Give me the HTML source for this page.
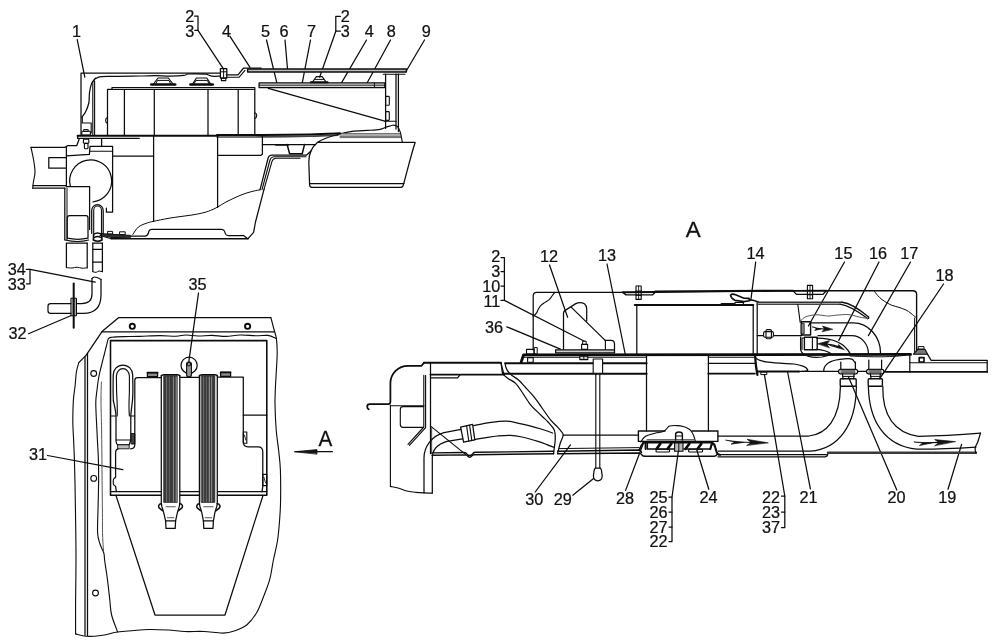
<!DOCTYPE html>
<html lang="en">
<head>
<meta charset="utf-8">
<title>Air conditioner installation diagram</title>
<style>
html,body{margin:0;padding:0;background:#fff;}
body{width:1000px;height:644px;overflow:hidden;}
svg{display:block;filter:grayscale(1);}
svg text{font-family:"Liberation Sans",sans-serif;font-size:16.6px;fill:#111;stroke:#111;stroke-width:0.25px;text-anchor:middle;}
</style>
</head>
<body>
<svg width="1000" height="644" viewBox="0 0 1000 644">
<rect x="0" y="0" width="1000" height="644" fill="#fff" stroke="none"/>
<g fill="none" stroke="#0c0c0c" stroke-width="1.25" stroke-linecap="round" stroke-linejoin="round">
<!-- labels -->
<text transform="translate(76.6 37) scale(0.98 1)">1</text>
<text transform="translate(189.8 22) scale(0.98 1)">2</text>
<text transform="translate(189.8 37) scale(0.98 1)">3</text>
<text transform="translate(226.5 37) scale(0.98 1)">4</text>
<text transform="translate(265.5 37) scale(0.98 1)">5</text>
<text transform="translate(284 37) scale(0.98 1)">6</text>
<text transform="translate(311.5 37) scale(0.98 1)">7</text>
<text transform="translate(345.3 22) scale(0.98 1)">2</text>
<text transform="translate(345.3 37) scale(0.98 1)">3</text>
<text transform="translate(369.3 37) scale(0.98 1)">4</text>
<text transform="translate(391.3 37) scale(0.98 1)">8</text>
<text transform="translate(426.2 37) scale(0.98 1)">9</text>
<text transform="translate(16.7 274.5) scale(0.98 1)">34</text>
<text transform="translate(16.7 290) scale(0.98 1)">33</text>
<text transform="translate(17.6 339) scale(0.98 1)">32</text>
<text transform="translate(197.5 290) scale(0.98 1)">35</text>
<text transform="translate(38 460) scale(0.98 1)">31</text>
<text transform="translate(494 332.5) scale(0.98 1)">36</text>
<text transform="translate(549 262) scale(0.98 1)">12</text>
<text transform="translate(607 261) scale(0.98 1)">13</text>
<text transform="translate(755.5 259) scale(0.98 1)">14</text>
<text transform="translate(843.4 259) scale(0.98 1)">15</text>
<text transform="translate(878 259) scale(0.98 1)">16</text>
<text transform="translate(909.2 259) scale(0.98 1)">17</text>
<text transform="translate(944.5 281) scale(0.98 1)">18</text>
<text transform="translate(534.2 505) scale(0.98 1)">30</text>
<text transform="translate(562.8 505) scale(0.98 1)">29</text>
<text transform="translate(625 503.5) scale(0.98 1)">28</text>
<text transform="translate(658.5 502.5) scale(0.98 1)">25</text>
<text transform="translate(658.5 517.5) scale(0.98 1)">26</text>
<text transform="translate(658.5 532.5) scale(0.98 1)">27</text>
<text transform="translate(658.5 547) scale(0.98 1)">22</text>
<text transform="translate(708.5 502.5) scale(0.98 1)">24</text>
<text transform="translate(771 502.5) scale(0.98 1)">22</text>
<text transform="translate(771 517.5) scale(0.98 1)">23</text>
<text transform="translate(771 532.5) scale(0.98 1)">37</text>
<text transform="translate(808.5 502.5) scale(0.98 1)">21</text>
<text transform="translate(896.6 503.3) scale(0.98 1)">20</text>
<text transform="translate(947.2 503.3) scale(0.98 1)">19</text>
<text transform="translate(500.4 262) scale(0.98 1)" style="text-anchor:end;">2</text>
<text transform="translate(500.4 276.6) scale(0.98 1)" style="text-anchor:end;">3</text>
<text transform="translate(500.4 291.6) scale(0.98 1)" style="text-anchor:end;">10</text>
<text transform="translate(500.4 306.6) scale(0.98 1)" style="text-anchor:end;">11</text>
<text transform="translate(693.2 237) scale(1.03 1)" style="font-size:21.8px;">A</text>
<text transform="translate(325.5 446.2) scale(0.95 1)" style="font-size:21.8px;">A</text>
<!-- leader lines -->
<line x1="77.2" y1="39.5" x2="84.8" y2="77.2" stroke-width="1.25"/>
<line x1="198" y1="30.4" x2="223.6" y2="69.2" stroke-width="1.25"/>
<line x1="229.8" y1="36.2" x2="250" y2="67.3" stroke-width="1.25"/>
<line x1="266.5" y1="40" x2="277.2" y2="84.4" stroke-width="1.25"/>
<line x1="285" y1="40" x2="287.6" y2="70" stroke-width="1.25"/>
<line x1="310.5" y1="40" x2="301.5" y2="86.8" stroke-width="1.25"/>
<line x1="335.8" y1="31.2" x2="319.6" y2="77.2" stroke-width="1.25"/>
<line x1="366.5" y1="40" x2="340.6" y2="84.4" stroke-width="1.25"/>
<line x1="390.5" y1="40" x2="367.2" y2="82.8" stroke-width="1.25"/>
<line x1="424.5" y1="40" x2="406.4" y2="70.8" stroke-width="1.25"/>
<line x1="30" y1="269.4" x2="95.2" y2="282.2" stroke-width="1.25"/>
<line x1="28.5" y1="333.7" x2="71.2" y2="315.5" stroke-width="1.25"/>
<line x1="198.5" y1="293" x2="188.7" y2="362.6" stroke-width="1.25"/>
<line x1="47.5" y1="455.5" x2="122.8" y2="469.6" stroke-width="1.25"/>
<line x1="504.4" y1="300.4" x2="584.4" y2="341.2" stroke-width="1.25"/>
<line x1="506.8" y1="326.8" x2="560.4" y2="349.2" stroke-width="1.25"/>
<line x1="549.5" y1="265" x2="567.6" y2="317.2" stroke-width="1.25"/>
<line x1="607" y1="264" x2="625.2" y2="354" stroke-width="1.25"/>
<line x1="755.7" y1="262" x2="750.8" y2="300.4" stroke-width="1.25"/>
<line x1="844.5" y1="262" x2="808.4" y2="326" stroke-width="1.25"/>
<line x1="879" y1="262" x2="838.8" y2="340.4" stroke-width="1.25"/>
<line x1="910.5" y1="262" x2="868.4" y2="335.6" stroke-width="1.25"/>
<line x1="943.5" y1="284" x2="880.4" y2="377.6" stroke-width="1.25"/>
<line x1="535.2" y1="492" x2="570.4" y2="444.8" stroke-width="1.25"/>
<line x1="572.8" y1="495.2" x2="593.6" y2="478.4" stroke-width="1.25"/>
<line x1="625.6" y1="490.4" x2="644" y2="441.5" stroke-width="1.25"/>
<line x1="672" y1="497.2" x2="678.4" y2="450.8" stroke-width="1.25"/>
<line x1="708.8" y1="489.2" x2="696.8" y2="450" stroke-width="1.25"/>
<line x1="764.4" y1="374.6" x2="784.8" y2="496" stroke-width="1.25"/>
<line x1="787.6" y1="372" x2="810.4" y2="488.8" stroke-width="1.25"/>
<line x1="848.4" y1="376.8" x2="896.8" y2="490" stroke-width="1.25"/>
<line x1="961.6" y1="444.4" x2="948" y2="489.2" stroke-width="1.25"/>
<polyline points="194.5,16 198,16 198,30.4 194.8,30.4" stroke-width="1.25"/>
<polyline points="340.4,16.4 335.8,16.4 335.8,31.2 340.4,31.2" stroke-width="1.25"/>
<polyline points="26.4,269.4 30,269.4 30,283.8 26.4,283.8" stroke-width="1.25"/>
<polyline points="501,257.5 504.4,257.5 504.4,300.4 501,300.4" stroke-width="1.25"/>
<line x1="501" y1="271.5" x2="504.4" y2="271.5" stroke-width="1.25"/>
<line x1="501" y1="286" x2="504.4" y2="286" stroke-width="1.25"/>
<polyline points="669,497.2 672,497.2 672,541.5 669,541.5" stroke-width="1.25"/>
<line x1="669" y1="512" x2="672" y2="512" stroke-width="1.25"/>
<line x1="669" y1="527" x2="672" y2="527" stroke-width="1.25"/>
<polyline points="781.5,496 784.8,496 784.8,527.5 781.5,527.5" stroke-width="1.25"/>
<line x1="781.5" y1="512" x2="784.8" y2="512" stroke-width="1.25"/>
<!-- view 1: section of roof unit -->
<polyline points="81,135.5 81,73.2 220.5,73.2"/>
<path d="M220 76.2C218.7 76.2 214.3 76.5 212 76.2C209.7 75.9 208.5 74.6 206 74.2C203.5 73.8 200 73.8 197 73.8C194 73.8 190.2 73.7 188 74C185.8 74.3 187 75.1 184 75.4C181 75.7 174.8 76 170 76C165.2 76 160 75.6 155 75.6C150 75.6 147.5 75.9 140 76C132.5 76.1 117 76.2 110 76.4C103 76.6 101 76.5 98 77.4C95 78.3 93.7 79.6 92.3 82C90.9 84.4 90.2 88.5 89.6 92C89 95.5 89.5 99.7 88.8 103C88.1 106.3 86.7 109.6 85.5 112C84.3 114.4 82.4 116.3 81.8 117.2" stroke-width="1.25"/>
<polyline points="92.8,134.8 92.8,82 95.5,78" stroke-width="1.12"/>
<line x1="94.6" y1="134.8" x2="94.6" y2="81" stroke-width="1.12"/>
<polyline points="82.3,117.2 82.3,123 91.2,123 91.2,133" stroke-width="1.12"/>
<rect x="81.8" y="131.2" width="8.6" height="3.8" rx="0.8" stroke-width="1.12"/>
<rect x="84" y="129.6" width="4.2" height="1.8" stroke-width="1"/>
<rect x="83.4" y="139.2" width="5.4" height="4.2" rx="0.8" stroke-width="1.12"/>
<rect x="84.4" y="143.4" width="3.6" height="5.4" rx="1" stroke-width="1.12"/>
<line x1="77.6" y1="135.7" x2="218" y2="135.7" stroke-width="1.88"/>
<line x1="77.6" y1="138.4" x2="139.2" y2="138.4" stroke-width="1.25"/>
<line x1="77.6" y1="135.7" x2="77.6" y2="138.4"/>
<polyline points="107.5,135 107.5,89.4 112,89.4 112,87.7 254.8,87.7 254.8,135"/>
<line x1="112" y1="89.5" x2="254.8" y2="89.5" stroke-width="1.12"/>
<line x1="124.4" y1="89.5" x2="124.4" y2="135"/>
<line x1="154.3" y1="89.5" x2="154.3" y2="135"/>
<line x1="208" y1="89.5" x2="208" y2="135"/>
<line x1="238.2" y1="89.5" x2="238.2" y2="135"/>
<path d="M107.5 117.6 a3 3 0 0 0 0 5.6" stroke-width="1.12"/>
<path d="M254.8 112.8 a3 3 0 0 1 0 5.6" stroke-width="1.12"/>
<line x1="151.2" y1="84.6" x2="175.2" y2="84.6" stroke-width="2.5"/>
<polyline points="152.7,85 158,78 168.4,78 173.7,85" stroke-width="1.12"/>
<polyline points="155.8,83.8 157.4,80.4 169,80.4 170.6,83.8" stroke-width="1"/>
<line x1="190.4" y1="84.6" x2="212.8" y2="84.6" stroke-width="2.5"/>
<polyline points="191.9,85 196.4,78 206.8,78 211.3,85" stroke-width="1.12"/>
<polyline points="194.2,83.8 195.8,80.4 207.4,80.4 209,83.8" stroke-width="1"/>
<rect x="220.4" y="68.5" width="6.4" height="9.5" stroke-width="1.25"/>
<line x1="220.4" y1="71.8" x2="226.8" y2="71.8" stroke-width="1"/>
<line x1="223.6" y1="68.5" x2="223.6" y2="78" stroke-width="1"/>
<rect x="221.4" y="78" width="4.4" height="2.6" stroke-width="1.12"/>
<polyline points="226.2,74.8 238,74.8 243.6,68 261.2,68"/>
<polyline points="226.2,77.2 239.2,77.2 245,70.4" stroke-width="1.12"/>
<rect x="247.6" y="69" width="158.8" height="3" stroke-width="1.38" fill="#bdbdbd"/>
<line x1="383.2" y1="74.2" x2="405" y2="74.2" stroke-width="1.12"/>
<rect x="259.1" y="82.9" width="125.7" height="4.7" stroke-width="1.25" fill="#d8d8d8"/>
<line x1="259.1" y1="85.2" x2="384.8" y2="85.2" stroke-width="0.88"/>
<line x1="374.4" y1="82.9" x2="374.4" y2="87.6" stroke-width="1"/>
<line x1="310.8" y1="82.2" x2="327.6" y2="82.2" stroke-width="2"/>
<polyline points="312.5,82 316.4,76.6 322.2,76.6 326,82" stroke-width="1.12"/>
<line x1="315" y1="79.4" x2="323.6" y2="79.4" stroke-width="1"/>
<line x1="268.4" y1="88.4" x2="384.8" y2="121.2"/>
<line x1="385.6" y1="74.2" x2="385.6" y2="128.4"/>
<line x1="396" y1="74.2" x2="396" y2="129"/>
<line x1="398.4" y1="74.2" x2="398.4" y2="131.6"/>
<rect x="385.6" y="96.4" width="3.7" height="8.8" rx="0.8" stroke-width="1.12"/>
<rect x="385.6" y="111.6" width="3.7" height="8.8" rx="0.8" stroke-width="1.12"/>
<line x1="384.8" y1="121.2" x2="396" y2="121.2" stroke-width="1.12"/>
<path d="M217 137C220.8 137 232.5 137 240 137C247.5 137 250.3 137 262 136.9C273.7 136.8 297.3 136.6 310 136.3C322.7 136 333.3 135.4 338 135.2" stroke-width="1.62" stroke="#444"/>
<path d="M217 135.1C220.8 135.1 232.5 135.1 240 135.1C247.5 135.1 250.3 135.1 262 135C273.7 134.9 297 134.7 310 134.4C323 134.1 335 133.5 340 133.3" stroke-width="2"/>
<path d="M340 133.8C342 133.4 347.3 132 352 131.4C356.7 130.8 363.3 130.7 368 130.4C372.7 130.1 377 129.9 380 129.4C383 128.9 383.9 127.9 386 127.2C388.1 126.5 390.9 125.3 392.8 125.2C394.7 125.1 396.3 125.3 397.6 126.6C398.9 127.9 400.1 131.9 400.6 133" stroke-width="1.12"/>
<line x1="342" y1="133.6" x2="400.6" y2="133.6" stroke-width="1" stroke="#666"/>
<line x1="340" y1="135" x2="400.6" y2="135" stroke-width="1" stroke="#666"/>
<line x1="340" y1="136.4" x2="400.6" y2="136.4" stroke-width="1" stroke="#666"/>
<line x1="340" y1="137.6" x2="400.6" y2="137.6" stroke-width="1" stroke="#666"/>
<polyline points="400.6,133 402.4,142.3" stroke-width="1.12"/>
<path d="M317.6 142.3 L415.2 142.3 C412 152 409 164 403.6 184 Q403 187.4 401 187.4 L312 187.4 Q309.8 187.4 309.6 185 L308.8 162 C308.8 153 312 147 317.6 142.3 C324 138 332 136 340 133.8"/>
<line x1="309.8" y1="183.6" x2="404" y2="183.6" stroke-width="1.12"/>
<polyline points="217.6,136 217.6,155.4 261,155.4 262.4,154 262.4,136"/>
<line x1="217.6" y1="155.4" x2="217.6" y2="207.4"/>
<line x1="153.6" y1="136" x2="153.6" y2="221.3"/>
<line x1="112.6" y1="156" x2="153.6" y2="156"/>
<line x1="262.4" y1="144.6" x2="315.5" y2="144.6"/>
<line x1="276" y1="144.9" x2="288" y2="144.9" stroke-width="1.75"/>
<polyline points="287.2,144.6 289.6,153.8 302.2,153.8 304.5,144.6" stroke-width="1.5"/>
<path d="M260 189.8 L268 158.5 Q268.8 155.2 272 155.2 L306.4 155.2 L311 151"/>
<path d="M262 189.6 L270 160 Q271 156.8 274.5 156.8 L306 156.8" stroke-width="1.12"/>
<path d="M264 189.4 L272 161.4 Q273 158.2 276 158.2 L300 158.2" stroke-width="1.12"/>
<polyline points="264,189.4 255.5,222 253.6,232.4 248,238.6"/>
<path d="M132.8 234.5C133.7 233.2 136.2 228.8 138.4 227C140.6 225.2 143.5 224.3 146 223.4C148.5 222.5 149.9 222.1 153.6 221.3C157.3 220.5 163.6 219.2 168 218.4C172.4 217.6 176 217.2 180 216.6C184 216 188 215.7 192 215C196 214.3 200.7 213.5 204 212.6C207.3 211.7 209.7 210.8 212 209.8C214.3 208.8 215.7 208.1 218 206.8C220.3 205.5 223 203.6 226 202C229 200.4 232.7 198.7 236 197.2C239.3 195.7 243 194.2 246 193.2C249 192.2 251.7 191.6 254 191C256.3 190.4 259 190 260 189.8" stroke-width="1"/>
<line x1="111.2" y1="238.7" x2="248" y2="238.7" stroke-width="1.62"/>
<path d="M131.2 236 L145 236 Q147.6 236 148.4 233 L149 231 Q149.6 229.3 152 229.3 L221.6 229.3 Q224 229.3 224.6 231.4 L225.4 233.6 Q226 235.6 228.4 235.6 L243.6 235.6 L247.4 238.5"/>
<polygon points="100,233.6 130.6,235.4 130.8,237.2 112,237.6 104,235.6" stroke-width="1" fill="#333"/>
<rect x="108" y="231.4" width="4.6" height="2.6" stroke-width="1"/>
<rect x="120" y="231.8" width="5.2" height="2.8" stroke-width="1"/>
<polyline points="100,235.4 111.2,238.7" stroke-width="1.12"/>
<path d="M79.2 139 L76.8 145.5 L68 145.5 L64.8 147.4 L31 147.4"/>
<path d="M31 147.4C31.4 149.5 32.9 155.9 33.6 160C34.3 164.1 35 168.3 35 172C35 175.7 33.8 179.3 33.4 182C33 184.7 32.9 187.2 32.8 188.2" stroke-width="1.12"/>
<line x1="32.8" y1="185.6" x2="66.4" y2="185.6"/>
<line x1="32.8" y1="188.2" x2="64.8" y2="188.2"/>
<polyline points="66.4,157.5 48.8,157.5 48.8,168.2 66.4,168.2"/>
<polyline points="66.4,147.4 66.4,186.6"/>
<polyline points="66.4,155.8 89.4,154.4 90,146.4 112.6,146.4 112.6,212.2 106.4,212.2 106.4,208.2"/>
<line x1="90" y1="151.2" x2="112.6" y2="151.2" stroke-width="1.12"/>
<line x1="101.6" y1="139" x2="101.6" y2="146.6"/>
<path d="M70.4 186.4 A21 21 0 1 1 93 201.8" stroke-width="1.25"/>
<polyline points="66.4,186.6 89.6,186.6 89.6,229.4"/>
<line x1="64.8" y1="188.2" x2="64.8" y2="239.8"/>
<line x1="67" y1="188.2" x2="67" y2="239.8" stroke-width="1"/>
<path d="M67.2 238.2 L67.2 218 Q67.2 215.5 69.6 215.5 L86 215.5 Q88 215.5 88 218 L88 238.2 Q78 240.4 67.2 238.2 Z"/>
<path d="M65 240 Q78 243 88.6 240" stroke-width="1.12"/>
<polyline points="87.2,243 66.4,243 66.4,267.6"/>
<line x1="87.2" y1="243" x2="87.2" y2="267.8"/>
<path d="M66.4 267.6C67.3 267.7 70.2 268.1 72 268C73.8 267.9 75.3 267.2 77 267.2C78.7 267.2 80.3 268.1 82 268.2C83.7 268.3 86.3 267.9 87.2 267.8" stroke-width="1"/>
<path d="M91.7 233.4 L91.7 210.6 A5.75 6 0 0 1 103.2 210.6 L103.2 233.4"/>
<path d="M93.7 233.4 L93.7 210.6 A3.9 4.6 0 0 1 101.5 210.6 L101.5 233.4" stroke-width="1.12"/>
<path d="M93.6 234.4 Q97.6 231.6 101.6 234.4 L102 240 Q97.6 242.4 93.4 240 Z" stroke-width="1.62"/>
<path d="M94.6 237.4 Q97.6 235.6 100.6 237.4" stroke-width="1.5"/>
<polyline points="92.8,243 92.8,271.6"/>
<polyline points="102.4,243 102.4,271.6"/>
<line x1="92.8" y1="243" x2="102.4" y2="243"/>
<line x1="92.8" y1="249.4" x2="102.4" y2="249.4"/>
<line x1="92.8" y1="262.2" x2="102.4" y2="262.2"/>
<path d="M92.8 271.6C93.3 271.7 95 272.5 96 272.4C97 272.3 97.9 271.1 99 271C100.1 270.9 101.8 271.7 102.4 271.8" stroke-width="1"/>
<path d="M92 278.4 L92 294 Q92 303.5 81.6 303.5 L50.6 303.5 Q48 303.5 48 306 L48 311 Q48 313.4 50.6 313.4 L83.2 313.4 Q101 313.4 101 295 L101 279.4"/>
<path d="M92 278.4C92.4 278.2 93.7 277.1 94.6 277C95.5 276.9 96.5 277.4 97.6 277.8C98.7 278.2 100.4 279.1 101 279.4" stroke-width="1.12"/>
<rect x="71.3" y="298.2" width="5.2" height="17.6" stroke-width="1" fill="#a8a8a8"/>
<line x1="73.7" y1="283.5" x2="73.7" y2="327.8" stroke-width="2"/>
<!-- view 2: plan view with straps -->
<polyline points="270.8,317.5 118.8,317.5 102,331.6 86,355.4 78.8,362.6"/>
<line x1="102" y1="331.9" x2="274.4" y2="331.9"/>
<path d="M270.8 317.5C271.3 319.2 272.7 324.5 273.6 328C274.5 331.5 275.8 334.4 276.4 338.6C277 342.8 277.2 347.8 277.2 353C277.2 358.2 276.7 364.2 276.4 370C276.1 375.8 275.6 382.3 275.4 388C275.2 393.7 274.9 397 275 404C275.1 411 275.6 422.3 276.2 430C276.8 437.7 277.9 443.3 278.6 450C279.3 456.7 280.1 461.7 280.4 470C280.7 478.3 280.7 491.7 280.6 500C280.5 508.3 280.1 513.3 279.6 520C279.1 526.7 278.6 533.3 277.6 540C276.6 546.7 274.7 553.5 273.4 560C272.1 566.5 271.4 573.2 269.8 579.2C268.2 585.2 266 590.4 263.8 596C261.6 601.6 259.4 608 256.6 612.8C253.8 617.6 250.6 621.7 247 624.7C243.4 627.7 239 629.3 235 630.7C231 632.1 228.2 633 223 633.1C217.8 633.2 210.4 631.8 204 631.5C197.6 631.2 190.7 631.8 184.7 631.5C178.7 631.2 174 630.3 168 630C162 629.7 154.7 629.4 148.7 629.5C142.7 629.6 137.2 630.3 132 630.7C126.8 631.1 122.8 631.2 117.6 632C112.4 632.8 106 634.8 100.8 635.5C95.6 636.2 90.6 636.6 86.4 636.3C82.2 636 77.4 634.3 75.6 633.9" stroke-width="1.12"/>
<path d="M78.8 362.6C78.4 364.2 77 368.3 76.4 372C75.8 375.7 75.7 380.3 75.2 385C74.7 389.7 73.8 394.2 73.4 400C73 405.8 72.8 413.3 72.8 420C72.8 426.7 73.3 433.3 73.6 440C73.9 446.7 74.2 452.8 74.4 460C74.6 467.2 74.8 473 75 483C75.2 493 75.4 507.5 75.6 520C75.8 532.5 76 544.7 76 558C76 571.3 75.7 587.4 75.6 600C75.5 612.6 75.6 628.2 75.6 633.9" stroke-width="1.12"/>
<line x1="85" y1="356.4" x2="85" y2="635.2"/>
<line x1="87.5" y1="353.4" x2="87.5" y2="635.4"/>
<circle cx="132.3" cy="326.3" r="2.6" stroke-width="1.88"/>
<circle cx="247.6" cy="326.3" r="2.6" stroke-width="1.88"/>
<circle cx="93.7" cy="373.5" r="2.9" stroke-width="1.12"/>
<circle cx="93.7" cy="478.4" r="2.9" stroke-width="1.12"/>
<circle cx="95.5" cy="593" r="2.9" stroke-width="1.12"/>
<path d="M276.2 338.4C274.8 337.9 271.4 335.8 268 335.4C264.6 335 260.7 335.9 256 335.8C251.3 335.7 245 334.9 240 335C235 335.1 230.7 336.3 226 336.4C221.3 336.5 216.7 335.5 212 335.4C207.3 335.3 202.3 336.1 198 336C193.7 335.9 189.7 335 186 335C182.3 335 180.3 336.1 176 336.2C171.7 336.3 166 335.6 160 335.6C154 335.6 146 336.2 140 336.4C134 336.6 128.7 336.5 124 336.6C119.3 336.7 114.6 336.8 112 337.2C109.4 337.6 109.3 337.3 108.4 338.8C107.5 340.3 107.1 343.5 106.4 346C105.7 348.5 105.2 350.8 104.4 354C103.6 357.2 102.5 361.2 101.6 365C100.7 368.8 99.6 372.8 98.8 377C98 381.2 97.5 385.8 97 390C96.5 394.2 95.9 397 95.8 402C95.7 407 96.1 413.7 96.4 420C96.7 426.3 97.1 433.3 97.4 440C97.7 446.7 98.2 452.8 98.4 460C98.6 467.2 98.7 474.7 98.6 483C98.5 491.3 98.2 501.7 98 510C97.8 518.3 97.3 527.3 97.6 533C97.9 538.7 99 540.7 100 544C101 547.3 103 550.3 103.8 553C104.6 555.7 104.2 556.8 104.6 560C105 563.2 105.8 568 106.4 572C107 576 107.4 579.3 108 584C108.6 588.7 109.2 594.8 109.8 600C110.4 605.2 110.3 609.7 111.6 615C112.9 620.3 116.6 629.2 117.6 632" stroke-width="1.12"/>
<path d="M101.4 382C101.3 385 101 392 101 400C101 408 101.4 418.3 101.6 430C101.8 441.7 101.9 456.7 102 470C102.1 483.3 102.3 499.2 102.4 510C102.5 520.8 102.4 528.2 102.6 535C102.8 541.8 103.4 548.3 103.6 551" stroke-width="1" stroke="#555"/>
<polyline points="110.5,495.3 110.5,340.6 266.8,340.6 266.8,495.3 110.5,495.3" stroke-width="1.56"/>
<line x1="110.5" y1="491.6" x2="266.8" y2="491.6"/>
<line x1="110.5" y1="416" x2="115.6" y2="416" stroke-width="1.12"/>
<line x1="243.3" y1="415.2" x2="266.8" y2="415.2"/>
<path d="M113.4 401 C112.8 392 113.2 384 113.2 375 A9.75 10 0 0 1 132.7 375 C132.7 384 133.4 392 132.4 401 C131.6 408 131 412 130.8 416 L130.8 440"/>
<path d="M117.2 416 C117.6 408 117 400 116.6 392 L116.4 376 A6.5 7.4 0 0 1 129.4 376 L129.4 392 C129 400 128.6 408 129.4 416" stroke-width="1.12"/>
<path d="M113.4 401 C115 408 116 412 116 416 L116 440 Q116 444.8 118.4 444.8 L129.2 444.8 L130.8 440" stroke-width="1.25"/>
<line x1="116.4" y1="440" x2="130.4" y2="440" stroke-width="1.12"/>
<rect x="118" y="444.8" width="11.2" height="4" stroke-width="0.88" fill="#bbb"/>
<polyline points="130.8,416 134.8,416" stroke-width="1"/>
<rect x="131.6" y="433.6" width="3.2" height="10.4" stroke-width="1" fill="#444"/>
<path d="M130.6 448.8 Q134.8 448.6 134.8 445 L134.8 380.4 Q134.8 377.6 137.6 377.6 L161.3 377.6"/>
<line x1="179.6" y1="377.4" x2="199.4" y2="377.4"/>
<path d="M217.2 377.2 L243.3 377.2 L243.3 441.6 Q243.3 446.9 248 446.9 L258 446.9 Q262.8 446.9 262.8 452 L262.8 486.4 L262 491.6"/>
<path d="M118 448.8 Q115.6 449.4 115.6 452.6 L115.6 476.8 M115.6 486.6 L116.4 491.6"/>
<path d="M115.6 477.6 a2.4 4.2 0 0 0 0 8.4" stroke-width="1.12"/>
<rect x="243.3" y="432" width="3.5" height="11.2" stroke-width="1.12"/>
<line x1="244.4" y1="435" x2="245.8" y2="440" stroke-width="0.88"/>
<rect x="262.8" y="474.4" width="4" height="11.2" stroke-width="1.12"/>
<line x1="263.8" y1="477" x2="265.6" y2="483" stroke-width="0.88"/>
<rect x="147.4" y="372.6" width="10.2" height="4" stroke-width="1.25" fill="#8a8a8a"/>
<rect x="220.6" y="372.4" width="10" height="4" stroke-width="1.25" fill="#8a8a8a"/>
<line x1="147.4" y1="372.6" x2="157.6" y2="372.6" stroke-width="1.62"/>
<line x1="220.6" y1="372.4" x2="230.6" y2="372.4" stroke-width="1.62"/>
<circle cx="189.1" cy="365.3" r="8.1" stroke-width="1.25"/>
<rect x="186.6" y="362" width="4.8" height="14.8" rx="2" stroke-width="1.12" fill="#999"/>
<circle cx="189" cy="364.2" r="1.8" stroke-width="1"/>
<rect x="161.3" y="375.6" width="18.5" height="128" stroke-width="0.01" stroke="#fff" fill="#fff"/>
<line x1="161.3" y1="375.4" x2="161.3" y2="503.6"/>
<line x1="179.8" y1="375.4" x2="179.8" y2="503.6"/>
<path d="M161.3 376 Q161.9 374.6 164.3 374.8 L176.8 374.8 Q179.2 374.6 179.8 376" stroke-width="1.38"/>
<rect x="164" y="375.6" width="13.2" height="126.8" stroke-width="0.75" stroke="#222" fill="#3a3a3a"/>
<line x1="166.6" y1="377" x2="166.6" y2="501.5" stroke-width="0.88" stroke="#777"/>
<line x1="169.4" y1="377" x2="169.4" y2="501.5" stroke-width="0.88" stroke="#6a6a6a"/>
<line x1="173.4" y1="377" x2="173.4" y2="501.5" stroke-width="0.88" stroke="#999"/>
<line x1="176.2" y1="377" x2="176.2" y2="501.5" stroke-width="0.88" stroke="#aaa"/>
<rect x="199.4" y="375.6" width="17.9" height="128" stroke-width="0.01" stroke="#fff" fill="#fff"/>
<line x1="199.4" y1="375.4" x2="199.4" y2="503.6"/>
<line x1="217.3" y1="375.4" x2="217.3" y2="503.6"/>
<path d="M199.4 376 Q200 374.6 202.4 374.8 L214.3 374.8 Q216.7 374.6 217.3 376" stroke-width="1.38"/>
<rect x="201.4" y="375.6" width="13.4" height="126.8" stroke-width="0.75" stroke="#222" fill="#3a3a3a"/>
<line x1="203.6" y1="377" x2="203.6" y2="501.5" stroke-width="0.88" stroke="#777"/>
<line x1="206.4" y1="377" x2="206.4" y2="501.5" stroke-width="0.88" stroke="#6a6a6a"/>
<line x1="209.3" y1="377" x2="209.3" y2="501.5" stroke-width="0.88" stroke="#aaa"/>
<line x1="211.6" y1="377" x2="211.6" y2="501.5" stroke-width="0.88" stroke="#999"/>
<path d="M161.3 503.4 L161.8 506.4 L163.7 512.6 L165.6 520.8 L166 528.4 L175.2 528.4 L175.6 520.8 L177.4 512.6 L179.3 506.4 L179.8 503.4" stroke-width="1.25"/>
<line x1="165.6" y1="520.8" x2="175.6" y2="520.8" stroke-width="1.25"/>
<line x1="166" y1="506.8" x2="175.2" y2="506.8" stroke-width="1.12" stroke="#555"/>
<line x1="167.4" y1="517.7" x2="173.8" y2="517.7" stroke-width="1.12" stroke="#555"/>
<path d="M161.3 503.8 C158.7 504 158.1 506.2 159.1 507.8 L162.5 510.6" stroke-width="1.5"/>
<path d="M179.8 503.8 C182.4 504 183 506.2 182 507.8 L178.6 510.6" stroke-width="1.5"/>
<path d="M199.4 503.4 L199.9 506.4 L201.8 512.6 L203.4 520.8 L203.8 528.4 L213 528.4 L213.4 520.8 L214.9 512.6 L216.8 506.4 L217.3 503.4" stroke-width="1.25"/>
<line x1="203.4" y1="520.8" x2="213.4" y2="520.8" stroke-width="1.25"/>
<line x1="203.8" y1="506.8" x2="213" y2="506.8" stroke-width="1.12" stroke="#555"/>
<line x1="205.2" y1="517.7" x2="211.6" y2="517.7" stroke-width="1.12" stroke="#555"/>
<path d="M199.4 503.8 C196.8 504 196.2 506.2 197.2 507.8 L200.6 510.6" stroke-width="1.5"/>
<path d="M217.3 503.8 C219.9 504 220.5 506.2 219.5 507.8 L216.1 510.6" stroke-width="1.5"/>
<polyline points="116,495.5 155,615 225,615 263,495.5"/>
<line x1="296" y1="451.7" x2="332.4" y2="451.7" stroke-width="1.25"/>
<polygon points="294.6,451.7 317,449.6 317,453.8" stroke-width="0.75" fill="#151515"/>
<!-- view 3: view A -->
<path d="M424 362.7 L421.6 365.8 L408 365.8 A17.6 17.6 0 0 0 390.4 383.4 L390.4 401.8 Q390.4 404.2 388 404.2 L369.6 404.2 Q367.2 404.2 367.2 406.6 Q367.2 408.8 368.8 409.3" stroke-width="1.75"/>
<line x1="424" y1="362.7" x2="500.8" y2="362.7" stroke-width="2"/>
<line x1="390.4" y1="405.8" x2="424" y2="405.8" stroke-width="1.12"/>
<line x1="390.4" y1="405" x2="390.4" y2="486.4" stroke-width="1.12"/>
<path d="M390.4 486.4C391.7 486.7 395.1 487.2 398 488C400.9 488.8 405 490.5 408 491.2C411 491.9 413.3 492.1 416 492.4C418.7 492.7 421.3 492.8 424 492.9C426.7 493 430.9 493.1 432.3 493.1" stroke-width="1.12"/>
<path d="M423.2 406.6 L403 406.6 Q400.3 406.6 400.3 409.4 L400.3 424.6 Q400.3 427.4 403 427.4 L423.2 427.4" stroke-width="1.12"/>
<polyline points="423.8,375.4 423.8,427 408,444.4" stroke-width="1.12"/>
<polyline points="425.6,375.4 425.6,427.6 409.4,445.4" stroke-width="1.12"/>
<line x1="430.5" y1="362.7" x2="430.5" y2="453.6"/>
<line x1="431.6" y1="428" x2="431.6" y2="453.6" stroke-width="1.12" stroke="#555"/>
<path d="M430.5 374.6 L504 374.6" stroke-width="1.88"/>
<path d="M430.5 377.8 L457.6 377.8 L460 374.8" stroke-width="1.25"/>
<line x1="500.8" y1="362.7" x2="504" y2="374.6"/>
<line x1="430.9" y1="426.4" x2="465.6" y2="454.4" stroke-width="1.12"/>
<path d="M432 452.9 L464 452.5 Q466 452.5 467 454.2 Q469.6 456.8 472.4 454.2 Q473.4 452.3 475.4 452.3 L553.6 451.3" stroke-width="1.38"/>
<path d="M432 455.3 L465 454.9 Q467 455 467.6 456 Q469.6 458.4 471.8 456 Q472.4 454.8 474.4 454.7 L553.6 453.7" stroke-width="1.38"/>
<path d="M424 492.9 L424 458 C424 446 432 436 444 432.6 L461 429.4"/>
<path d="M432.3 493.1 L432.3 458 C432.3 450 438 444 447 441.4 L462.6 438.8"/>
<polygon points="460.6,427.2 472.6,424.4 474.8,439.8 463.6,442.2"/>
<line x1="466.6" y1="426" x2="468.8" y2="441" stroke-width="1.12"/>
<line x1="469.6" y1="425.4" x2="471.8" y2="440.4" stroke-width="1.12"/>
<path d="M473.6 425.7C475.7 425.3 482 423.9 486 423.2C490 422.5 494.1 422 497.6 421.6C501.1 421.2 503.5 420.8 507.2 421.1C510.9 421.4 516.2 422.8 520 423.6C523.8 424.4 526.5 424.9 530 425.8C533.5 426.7 537.2 427.8 541 429C544.8 430.2 550.7 432.3 552.6 433"/>
<path d="M474.4 439.6C476.3 439.3 482.1 438.2 486 437.6C489.9 437 493.5 436.4 497.6 436C501.7 435.6 506.3 435.1 510.4 435.3C514.5 435.5 517.4 436 522 437C526.6 438 533.8 440.1 538 441.4C542.2 442.7 544.4 443.6 547 444.6C549.6 445.6 552.5 446.8 553.6 447.2"/>
<path d="M501.2 362.9C501.3 363.8 501.5 366.2 501.8 368C502.1 369.8 501.8 372.1 502.8 373.8C503.8 375.5 505.9 376.8 508 378.4C510.1 380 513.3 381.1 515.6 383.4C517.9 385.7 519.6 388.5 522 392C524.4 395.5 527.7 401.1 530 404.2C532.3 407.3 533.9 408.3 536 410.4C538.1 412.5 540.8 415.1 542.8 417C544.8 418.9 546.3 420.1 548 422C549.7 423.9 552 426.4 553.2 428.2C554.4 430 554.7 431 555 433C555.3 435 555.3 437.7 555.2 440C555.1 442.3 554.7 444.7 554.4 447C554.1 449.3 553.7 452.5 553.6 453.6" stroke-width="1.25"/>
<path d="M505.2 363.6C505.3 364.2 505.4 365.8 505.8 367C506.2 368.2 506.6 369.4 507.6 370.8C508.6 372.2 510.1 373.8 512 375.4C513.9 377 516.5 378.1 518.8 380.2C521.1 382.3 523.3 385.1 526 388C528.7 390.9 532.1 394.5 534.8 397.8C537.5 401.1 539.3 404.3 542 408C544.7 411.7 548.3 417.1 550.8 420.2C553.3 423.3 555.5 424.7 557.2 426.6C558.9 428.5 560.2 430 561.2 431.4C562.2 432.8 563.4 433.1 563.2 435.2C563 437.3 560.9 440.9 560 444C559.1 447.1 558 452 557.6 453.6" stroke-width="1.25"/>
<line x1="505.2" y1="363.3" x2="646.5" y2="363.3" stroke-width="2.12"/>
<line x1="504" y1="373.8" x2="646.5" y2="373.8" stroke-width="2.12"/>
<rect x="593.2" y="359" width="9.4" height="14.2" stroke-width="1.12" fill="#fff"/>
<line x1="595.8" y1="374.2" x2="595.8" y2="468" stroke-width="1.12"/>
<line x1="599.8" y1="374.2" x2="599.8" y2="468" stroke-width="1.12"/>
<path d="M595.2 468 L600.4 468 L601.4 470 L602.2 475.6 Q602.2 480.8 597.8 480.8 Q593.4 480.8 593.4 475.6 L594.2 470 Z" stroke-width="1.25"/>
<path d="M521.2 362 L523.6 354.8 L910.6 354.4" stroke-width="2.75"/>
<line x1="523.6" y1="357.3" x2="646.5" y2="357.3" stroke-width="1.12"/>
<rect x="526.5" y="349.4" width="7.5" height="4.6" stroke-width="1.12"/>
<rect x="534.6" y="347.6" width="2.6" height="6.4" stroke-width="1"/>
<rect x="527.6" y="357.6" width="5.6" height="4.6" stroke-width="1.12"/>
<path d="M533.2 350 L533.2 296 Q533.2 292.4 536.8 292.4 L622.8 292.4"/>
<path d="M554.8 292.4C554.3 293 552.9 294.8 552 296C551.1 297.2 550.4 298.5 549.2 299.6C548 300.7 546.3 301.5 545 302.4C543.7 303.3 542.3 304.1 541.2 305.2C540.1 306.3 539.2 307.7 538.4 309C537.6 310.3 537.3 312 536.4 313.2C535.5 314.4 533.7 315.9 533.2 316.4" stroke-width="1.12"/>
<path d="M563.5 349.2 L563.5 313 Q563.6 311.4 565.2 310.4 L575.8 303.6 Q580.4 301.4 584.4 303.8 Q586.7 305.6 586.7 309 L586.7 321"/>
<line x1="571.4" y1="307.4" x2="605.2" y2="340.4"/>
<path d="M605.2 340.4 L611 340.4 Q614.5 340.4 614.5 344 L614.5 349.4"/>
<line x1="605.4" y1="340.4" x2="605.4" y2="349.4" stroke-width="1.12"/>
<rect x="555.6" y="349.8" width="58.9" height="3" stroke-width="1.25" fill="#d0d0d0"/>
<rect x="581.6" y="344.4" width="6" height="5" stroke-width="1.12"/>
<rect x="583" y="341.2" width="3.2" height="3.2" stroke-width="1"/>
<rect x="579.8" y="356.2" width="8" height="3.4" stroke-width="1.12" fill="#ccc"/>
<line x1="583.8" y1="356.2" x2="583.8" y2="359.6" stroke-width="0.88"/>
<path d="M622.8 292.4 L626 294.9 L652.4 294.9 L655.2 292.2 L793.2 290.9 L796.4 294.4 L823 294.4 L826.2 290.8 L912.8 290.8 Q916.6 290.8 916.6 294.6 L916.6 352" stroke-width="1.38"/>
<line x1="622.8" y1="292.3" x2="655.2" y2="292" stroke-width="1.88"/>
<line x1="793.2" y1="290.9" x2="826.2" y2="290.8" stroke-width="1.88"/>
<line x1="655.2" y1="291.4" x2="793.2" y2="290.6" stroke-width="1.88"/>
<rect x="636" y="286" width="5.2" height="13.4" stroke-width="1.12"/>
<line x1="638.6" y1="286" x2="638.6" y2="299.4" stroke-width="0.88"/>
<line x1="636" y1="291" x2="641.2" y2="291" stroke-width="1"/>
<line x1="636" y1="295.4" x2="641.2" y2="295.4" stroke-width="1"/>
<rect x="807.4" y="285.4" width="5.2" height="13.4" stroke-width="1.12"/>
<line x1="810" y1="285.4" x2="810" y2="298.8" stroke-width="0.88"/>
<line x1="807.4" y1="290.4" x2="812.6" y2="290.4" stroke-width="1"/>
<line x1="807.4" y1="294.8" x2="812.6" y2="294.8" stroke-width="1"/>
<line x1="634.8" y1="305" x2="753.2" y2="305" stroke-width="2.12"/>
<line x1="636.8" y1="305" x2="636.8" y2="354"/>
<line x1="753.2" y1="305" x2="753.2" y2="354"/>
<line x1="757.2" y1="303.6" x2="757.2" y2="354"/>
<line x1="721.5" y1="304" x2="734" y2="304" stroke-width="2"/>
<path d="M730.6 295.2 Q732 293.4 735.6 294.8 L744 298.2 L749 298.4 L749.4 300.8 L744 301.6 L735 300.2 Q731 298.6 730.6 295.2 Z" stroke-width="1.62" fill="#fff"/>
<path d="M749.6 299.8 Q754 300.2 758.4 302" stroke-width="1.38"/>
<rect x="735" y="302.4" width="8.4" height="2.2" stroke-width="1.12" fill="#fff"/>
<line x1="757" y1="302.2" x2="842" y2="302.2" stroke-width="1.62" stroke="#333"/>
<line x1="757" y1="304.2" x2="840" y2="304.2" stroke-width="1.38" stroke="#444"/>
<path d="M842 302.2 C850 303 858 308 868.6 317" stroke-width="1.38"/>
<path d="M840 304.2 C848 305.4 857 310.6 867.6 318.6" stroke-width="1.25"/>
<path d="M868.6 317 Q869.4 318.4 867.6 318.6" stroke-width="1.12"/>
<line x1="757.2" y1="335.6" x2="802" y2="335.6" stroke-width="1.12"/>
<rect x="763.6" y="331.6" width="9.8" height="5.6" rx="1.4" stroke-width="1.12" fill="#fff"/>
<rect x="766" y="329.6" width="5.4" height="9.2" rx="1.2" stroke-width="1.12"/>
<line x1="646.5" y1="354.4" x2="646.5" y2="431"/>
<line x1="708.4" y1="354.4" x2="708.4" y2="431"/>
<line x1="708.4" y1="357.3" x2="754.8" y2="357.3" stroke-width="1.12"/>
<line x1="708.4" y1="363.4" x2="754.8" y2="363.4" stroke-width="1.12"/>
<line x1="708.4" y1="373.6" x2="754.8" y2="373.6" stroke-width="1.88"/>
<path d="M755 354.6 Q755.6 366 757.4 374.8" stroke-width="2.25"/>
<path d="M755.6 358C756.3 358.4 758.3 359.8 760 360.4C761.7 361 762.7 361.3 766 361.8C769.3 362.3 775.3 362.8 780 363.2C784.7 363.6 790.1 363.5 794 364C797.9 364.5 801.3 365.5 803.6 366.4C805.9 367.3 807.2 368.8 807.6 369.6C808 370.4 807.5 370.7 806 371C804.5 371.3 800 371.5 798.8 371.6" stroke-width="1.25"/>
<line x1="757.6" y1="371.4" x2="798.8" y2="371.4" stroke-width="2"/>
<rect x="761.2" y="372" width="5.6" height="2.6" stroke-width="1"/>
<line x1="798.8" y1="371.4" x2="838.8" y2="371.4" stroke-width="1.25"/>
<line x1="857.2" y1="371.4" x2="866.8" y2="371.4" stroke-width="1.25"/>
<line x1="885.2" y1="371.9" x2="987.2" y2="371.9" stroke-width="1.88"/>
<path d="M665 431 L638.4 431 L638.4 441.4 L717.9 441.4 L717.9 431 L692 431" stroke-width="1.38"/>
<path d="M640.8 442C641.3 441.3 642.5 439.1 643.6 438C644.7 436.9 645.3 436.4 647.2 435.6C649.1 434.8 652.3 433.9 655 433.2C657.7 432.5 661.2 432.4 663.2 431.6C665.2 430.8 665.7 429.5 666.8 428.6C667.9 427.7 667.9 426.5 669.6 426C671.3 425.5 674.6 425.5 677 425.6C679.4 425.7 682.2 426.3 684 426.8C685.8 427.3 686.9 427.8 688 428.4C689.1 429 689.5 429.1 690.4 430.2C691.3 431.3 692.6 433.3 693.4 435C694.2 436.7 694.9 439.7 695.2 440.6" stroke-width="1.12"/>
<line x1="647" y1="439.8" x2="694" y2="439.8" stroke-width="0.88"/>
<path d="M675.6 440 L675.6 434.4 Q675.6 432 679 432 Q682.4 432 682.4 434.4 L682.4 440" stroke-width="1.38"/>
<line x1="675.6" y1="436" x2="682.4" y2="436" stroke-width="1"/>
<rect x="674.6" y="442" width="8.4" height="9.2" stroke-width="1.12" fill="#bbb"/>
<line x1="678.8" y1="442" x2="678.8" y2="451.2" stroke-width="1"/>
<line x1="563.2" y1="435.2" x2="638.4" y2="435.2"/>
<line x1="559" y1="448.6" x2="639" y2="447.6" stroke-width="1"/>
<path d="M557.6 451.3 L639.2 450 Q640.6 450.6 641.6 452.4" stroke-width="1.38"/>
<path d="M557.6 453.7 L638.6 452.9 Q641 453 642 455 Q642.8 456.2 645 456.2 L714.4 456.2 Q716.4 456.2 717 454.6" stroke-width="1.5"/>
<path d="M643.4 442.4 L712 442.4 Q714.4 443.6 715.2 447.2 L716.6 452 Q717.4 454.6 720 454.8" stroke-width="2.12"/>
<path d="M639.4 449.8 Q641 445 643.6 442.6" stroke-width="1.88"/>
<polyline points="656.7,448.8 660.3,443.8" stroke-width="2.75"/>
<polyline points="667.7,448.8 671.3,443.8" stroke-width="2.75"/>
<polyline points="685.7,448.8 689.3,443.8" stroke-width="2.75"/>
<polyline points="697.7,448.8 701.3,443.8" stroke-width="2.75"/>
<path d="M647.4 443.4 L647.4 449 L673.6 449" stroke-width="1.38"/>
<path d="M683.8 449 L710 449 L712.4 444" stroke-width="1.38"/>
<line x1="645.6" y1="443.4" x2="645.6" y2="449" stroke-width="2"/>
<line x1="711.6" y1="444" x2="710.4" y2="449" stroke-width="2"/>
<rect x="656" y="449.2" width="13.6" height="2.8" rx="1" stroke-width="1.12"/>
<rect x="688.6" y="449.2" width="14" height="2.8" rx="1" stroke-width="1.12"/>
<path d="M717.9 436 L808.8 436 C826 434 840 420 840.4 386.4"/>
<path d="M718.4 451.2 L810.4 451.2 C838 449 856 426 856.4 386.4"/>
<path d="M718 454.6 L826.4 454.6" stroke-width="1.25"/>
<path d="M718 456.8 L825 456.8 Q827.6 456.6 827.6 454.6 Q827.8 452.8 830 452.8" stroke-width="1.25"/>
<line x1="828" y1="452.8" x2="976" y2="452.8" stroke-width="2.38" stroke="#3a3a3a"/>
<polygon points="726,440.2 743.6,442.4 731,444.2 734.4,442.1" stroke-width="0.62" fill="#151515"/>
<line x1="734.4" y1="442" x2="755.4" y2="442.5" stroke-width="1.25"/>
<polygon points="768,442.8 747.1,439.3 751.2,442.4 746.9,445.3" stroke-width="0.62" fill="#151515"/>
<polygon points="914.3,442 931.5,443 919.4,445.6 922.6,443.3" stroke-width="0.62" fill="#151515"/>
<line x1="922.6" y1="443.2" x2="943" y2="442.2" stroke-width="1.25"/>
<polygon points="955.2,441.6 934.7,439.6 938.9,442.4 934.9,445.6" stroke-width="0.62" fill="#151515"/>
<polygon points="812.5,326.9 820.8,328.9 814.7,330.5 816.4,328.7" stroke-width="0.62" fill="#151515"/>
<line x1="816.4" y1="328.6" x2="826.4" y2="329" stroke-width="1.25"/>
<polygon points="832.4,329.2 822.5,326.1 824.4,328.9 822.3,331.5" stroke-width="0.62" fill="#151515"/>
<polygon points="818,343.8 829.6,340.6 826.8,344.2 829.2,347.6" stroke-width="0.62" fill="#151515"/>
<path d="M827 344.2 Q834 344.8 838 346.6" stroke-width="1.25"/>
<polygon points="830,345.4 844.4,349.8 838.6,344.6 838,347" stroke-width="0.62" fill="#151515"/>
<path d="M810.8 322.8 L853.2 322.8 A27.4 30.6 0 0 1 880.6 353.4"/>
<path d="M818 335.6 L851.6 335.6 A16.8 17.8 0 0 1 868.4 353.4"/>
<path d="M816.4 338 C830 338 844 342 850 353.4"/>
<path d="M816.4 349.4 Q826 350 830.8 353.6" stroke-width="1.25"/>
<path d="M800.4 321.4C800.8 320.9 801.9 319.2 803 318.4C804.1 317.6 805.3 316.9 806.8 316.4C808.3 315.9 810.1 315.5 812 315.2C813.9 314.9 816 314.7 818 314.8C820 314.9 822.1 315.4 824 315.6C825.9 315.8 826.9 316.1 829.2 316C831.5 315.9 835.1 315.2 838 315C840.9 314.8 844.3 314.4 846.8 314.5C849.3 314.6 850.9 314.9 853 315.4C855.1 315.8 857.2 316.7 859.6 317.2C862 317.7 866.3 318.2 867.6 318.4" stroke-width="1" stroke="#555"/>
<line x1="797.8" y1="304.2" x2="800.2" y2="322.4" stroke-width="1.12"/>
<rect x="801.4" y="321.8" width="9.2" height="13.2" stroke-width="1.38"/>
<rect x="801.4" y="323.4" width="2.8" height="10.4" stroke-width="0.75" fill="#888"/>
<rect x="804.4" y="337.2" width="12.8" height="12.6" stroke-width="1.38"/>
<line x1="812.4" y1="337.2" x2="812.4" y2="349.8" stroke-width="1.12"/>
<polyline points="804.4,338 802,338 802,349.4" stroke-width="1.12"/>
<path d="M800.6 337.2 L800.6 349.6 C802 356 812 358.4 822 357 Q828 356 830.8 354" stroke-width="1.25"/>
<path d="M850 356C852.7 356.1 860.7 356.5 866 356.6C871.3 356.7 877 356.9 882 356.8C887 356.7 892 356.5 896 356.2C900 355.9 904.3 355.4 906 355.2" stroke-width="1"/>
<path d="M874 290.8C874.6 291.6 876.3 293.9 877.6 295.4C878.9 296.9 880.4 298.4 882 299.6C883.6 300.8 885.4 301.9 887 302.8C888.6 303.7 889.6 304.4 891.6 305.2C893.6 306 896.6 306.6 899 307.4C901.4 308.2 904 309 906 310C908 311 909.4 312.2 911 313.4C912.6 314.6 914.8 316.6 915.6 317.2" stroke-width="1"/>
<polyline points="840.8,369.6 840.8,362.1"/>
<polyline points="855.4,369.6 855.4,362.1"/>
<rect x="838.6" y="369.4" width="19" height="4.4" rx="2" stroke-width="1.25" fill="#fff"/>
<rect x="841.2" y="370.2" width="13.8" height="2.8" stroke-width="0.62" stroke="#555" fill="#777"/>
<polyline points="842.4,373.8 843,378.8" stroke-width="1.25"/>
<polyline points="854.2,373.8 853.6,378.8" stroke-width="1.25"/>
<line x1="842.4" y1="376.4" x2="854.2" y2="376.4" stroke-width="1"/>
<rect x="840.2" y="378.8" width="16" height="7.4" rx="1" stroke-width="1.38"/>
<polyline points="868.8,369.6 868.8,360.1"/>
<polyline points="881.6,369.6 881.6,360.1"/>
<rect x="866.6" y="369.4" width="17.2" height="4.4" rx="2" stroke-width="1.25" fill="#fff"/>
<rect x="869.2" y="370.2" width="12" height="2.8" stroke-width="0.62" stroke="#555" fill="#777"/>
<polyline points="870.4,373.8 871,378.8" stroke-width="1.25"/>
<polyline points="880.4,373.8 879.8,378.8" stroke-width="1.25"/>
<line x1="870.4" y1="376.4" x2="880.4" y2="376.4" stroke-width="1"/>
<rect x="868.2" y="378.8" width="14.2" height="7.4" rx="1" stroke-width="1.38"/>
<path d="M823.6 371.2C823.7 370.6 823.9 368.7 824.4 367.6C824.9 366.5 825.5 365.4 826.6 364.4C827.7 363.4 829.2 362.3 830.8 361.6C832.4 360.9 834.1 360.4 836 360C837.9 359.6 840 359.4 842 359.2C844 359 846.3 358.6 848 358.6C849.7 358.6 851.3 358.8 852.4 359.4C853.5 360 854.4 361.9 854.8 362.4" stroke-width="1.25"/>
<path d="M868.4 386.4 C869 420 884 446 916.8 449.2 C936 449.4 956 448.4 976 447.1"/>
<path d="M882.8 386.4 C882.4 412 892 432 918.4 436.4 C940 436 960 434.8 980.5 433.2"/>
<path d="M980.5 433.2C980.2 434 979.5 436.5 979 438C978.5 439.5 978.2 440.9 977.6 442.4C977 443.9 975.8 445.7 975.4 447C975 448.3 975.1 449 975.2 450C975.3 451 975.9 452.5 976 453" stroke-width="1.25"/>
<path d="M909.8 355.4 L909.8 371.9"/>
<path d="M927.4 354.2 L931.2 360.4 L987.2 360.4 L987.2 371.9"/>
<line x1="909.8" y1="362.8" x2="987.2" y2="362.8" stroke-width="1.12"/>
<polygon points="913.4,354.2 918,349.2 925,349.2 927.6,354.2" stroke-width="1.12" fill="#777"/>
<rect x="918.6" y="346.6" width="5.4" height="2.6" stroke-width="1"/>
<rect x="919.2" y="357.6" width="4.8" height="4.4" stroke-width="1.62"/>
<line x1="914.6" y1="318" x2="914.6" y2="352" stroke-width="1"/>
</g>
</svg>
</body>
</html>
